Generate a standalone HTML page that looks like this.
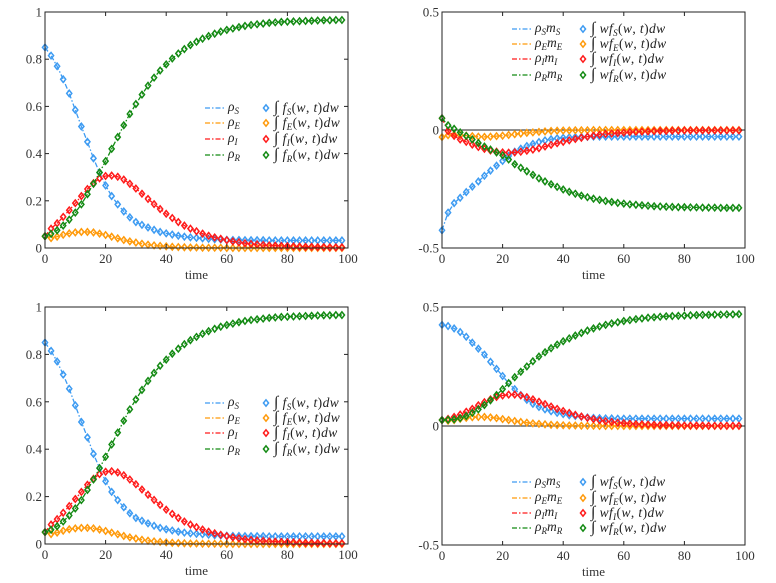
<!DOCTYPE html>
<html><head><meta charset="utf-8">
<style>
html,body{margin:0;padding:0;background:#fff;}
svg{display:block;font-family:"Liberation Serif",serif;}
</style></head>
<body>
<svg id="fig" width="776" height="583" viewBox="0 0 776 583" xmlns="http://www.w3.org/2000/svg"></svg>
<script>
const times = [0,2,4,6,8,10,12,14,16,18,20,22,24,26,28,30,32,34,36,38,40,42,44,46,48,50,52,54,56,58,60,62,64,66,68,70,72,74,76,78,80,82,84,86,88,90,92,94,96,98];
const xTicks = [0,20,40,60,80,100];
const yTicksDensity = [0,0.2,0.4,0.6,0.8,1];
const yTickLabelsDensity = ['0','0.2','0.4','0.6','0.8','1'];
const yTicksMoment = [-0.5,0,0.5];
const yTickLabelsMoment = ['-0.5','0','0.5'];

const densS = [0.85,0.815,0.77,0.715,0.655,0.585,0.515,0.45,0.38,0.32,0.265,0.22,0.185,0.155,0.13,0.11,0.098,0.087,0.077,0.068,0.062,0.057,0.052,0.048,0.045,0.043,0.041,0.039,0.037,0.036,0.035,0.034,0.034,0.033,0.033,0.033,0.033,0.032,0.032,0.032,0.032,0.032,0.032,0.032,0.032,0.032,0.032,0.032,0.032,0.032];
const densE = [0.05,0.042,0.048,0.056,0.062,0.066,0.068,0.068,0.066,0.061,0.055,0.048,0.041,0.034,0.028,0.023,0.018,0.014,0.011,0.009,0.007,0.005,0.004,0.003,0.002,0.002,0.001,0.001,0.001,0.001,0,0,0,0,0,0,0,0,0,0,0,0,0,0,0,0,0,0,0,0];
const densI = [0.05,0.082,0.105,0.132,0.16,0.19,0.22,0.25,0.275,0.295,0.305,0.307,0.302,0.29,0.272,0.252,0.23,0.208,0.186,0.165,0.145,0.127,0.11,0.095,0.082,0.071,0.061,0.052,0.045,0.039,0.033,0.028,0.024,0.02,0.017,0.015,0.013,0.011,0.01,0.009,0.008,0.007,0.006,0.005,0.005,0.004,0.004,0.003,0.003,0.003];
const densR = [0.05,0.06,0.075,0.095,0.12,0.15,0.185,0.228,0.272,0.32,0.368,0.42,0.47,0.52,0.568,0.61,0.65,0.688,0.722,0.752,0.778,0.803,0.824,0.843,0.86,0.874,0.887,0.898,0.908,0.917,0.924,0.93,0.936,0.941,0.945,0.948,0.951,0.954,0.956,0.958,0.959,0.96,0.961,0.962,0.963,0.964,0.965,0.965,0.966,0.966];

const momAS = [-0.425,-0.35,-0.31,-0.287,-0.263,-0.24,-0.218,-0.194,-0.172,-0.151,-0.131,-0.11,-0.092,-0.079,-0.068,-0.059,-0.051,-0.044,-0.039,-0.035,-0.033,-0.031,-0.03,-0.029,-0.029,-0.028,-0.028,-0.028,-0.028,-0.028,-0.028,-0.028,-0.028,-0.028,-0.028,-0.028,-0.028,-0.028,-0.028,-0.028,-0.028,-0.028,-0.028,-0.028,-0.028,-0.028,-0.028,-0.028,-0.028,-0.028];
const momAE = [-0.03,-0.022,-0.02,-0.022,-0.024,-0.026,-0.028,-0.029,-0.028,-0.026,-0.024,-0.021,-0.018,-0.015,-0.012,-0.01,-0.008,-0.006,-0.004,-0.003,-0.002,-0.002,-0.001,-0.001,-0.001,0,0,0,0,0,0,0,0,0,0,0,0,0,0,0,0,0,0,0,0,0,0,0,0,0];
const momAI = [0.05,-0.005,-0.025,-0.04,-0.05,-0.062,-0.072,-0.08,-0.087,-0.092,-0.095,-0.096,-0.095,-0.092,-0.088,-0.083,-0.077,-0.07,-0.063,-0.056,-0.05,-0.044,-0.038,-0.033,-0.028,-0.024,-0.02,-0.017,-0.015,-0.013,-0.011,-0.009,-0.008,-0.007,-0.006,-0.005,-0.004,-0.004,-0.003,-0.003,-0.002,-0.002,-0.002,-0.002,-0.002,-0.002,-0.002,-0.002,-0.002,-0.002];
const momAR = [0.05,0.02,0.005,-0.01,-0.025,-0.04,-0.055,-0.07,-0.083,-0.095,-0.107,-0.125,-0.145,-0.16,-0.175,-0.19,-0.205,-0.218,-0.23,-0.241,-0.252,-0.262,-0.27,-0.278,-0.285,-0.291,-0.296,-0.301,-0.305,-0.309,-0.312,-0.315,-0.317,-0.319,-0.321,-0.323,-0.324,-0.325,-0.326,-0.327,-0.327,-0.328,-0.328,-0.329,-0.329,-0.329,-0.33,-0.33,-0.33,-0.33];

const momBS = [0.425,0.42,0.41,0.395,0.375,0.35,0.325,0.3,0.27,0.24,0.21,0.18,0.155,0.13,0.11,0.093,0.08,0.07,0.062,0.055,0.05,0.045,0.042,0.039,0.036,0.034,0.033,0.032,0.032,0.031,0.031,0.031,0.031,0.031,0.031,0.031,0.031,0.031,0.031,0.031,0.031,0.031,0.031,0.031,0.031,0.031,0.031,0.031,0.031,0.031];
const momBE = [0.025,0.022,0.025,0.03,0.034,0.037,0.038,0.038,0.036,0.033,0.029,0.025,0.021,0.017,0.014,0.011,0.009,0.007,0.005,0.004,0.003,0.002,0.002,0.001,0.001,0.001,0,0,0,0,0,0,0,0,0,0,0,0,0,0,0,0,0,0,0,0,0,0,0,0];
const momBI = [0.025,0.03,0.038,0.048,0.06,0.072,0.087,0.1,0.112,0.122,0.128,0.132,0.132,0.128,0.121,0.112,0.102,0.092,0.082,0.072,0.063,0.055,0.047,0.04,0.034,0.029,0.024,0.02,0.017,0.014,0.012,0.01,0.008,0.007,0.006,0.005,0.004,0.004,0.003,0.003,0.002,0.002,0.002,0.002,0.001,0.001,0.001,0.001,0.001,0.001];
const momBR = [0.025,0.026,0.028,0.033,0.042,0.055,0.07,0.088,0.108,0.13,0.155,0.18,0.205,0.228,0.25,0.272,0.292,0.31,0.327,0.342,0.356,0.368,0.38,0.391,0.401,0.41,0.418,0.425,0.431,0.436,0.441,0.445,0.449,0.452,0.455,0.457,0.459,0.461,0.462,0.463,0.464,0.465,0.466,0.467,0.467,0.468,0.468,0.469,0.469,0.47];

const COLORS = ['#3d9bf2','#ff9a0a','#ff1a1a','#138a13'];
const NS = 'http://www.w3.org/2000/svg';
const svg = document.getElementById('fig');
function mk(tag, attrs, parent){
  const e = document.createElementNS(NS, tag);
  for (const k in attrs) e.setAttribute(k, attrs[k]);
  (parent||svg).appendChild(e);
  return e;
}
function panel(id, L, R, T, B, ymin, ymax, yt, ytl, series, legRows, legX, diamX, lineLbl, intLbl){
  const g = mk('g', {});
  
  
  const sx = v => L + (v - 0) / 100 * (R - L);
  const sy = v => B - (v - ymin) / (ymax - ymin) * (B - T);
  if (ymin < 0) {
    const z = mk('line', {x1:L, x2:R, y1:sy(0), y2:sy(0), stroke:'#222', 'stroke-width':1}, g);
    
    
  }
  series.forEach((s, si) => {
    const sg = mk('g', {}, g);
    
    
    const pts = times.map((t, i) => sx(t).toFixed(2) + ',' + sy(s[i]).toFixed(2)).join(' ');
    const pl = mk('polyline', {points:pts, fill:'none', stroke:COLORS[si], 'stroke-width':1.3, 'stroke-dasharray':'5 2 1.5 2'}, sg);
    
    
    times.forEach((t, i) => {
      const x = sx(t), y = sy(s[i]), r = 3.2;
      const d = mk('polygon', {points:`${x},${y-r} ${x+r*0.8},${y} ${x},${y+r} ${x-r*0.8},${y}`, fill:'none', stroke:COLORS[si], 'stroke-width':1.5}, sg);
      
      
    });
  });
  const box = mk('rect', {x:L, y:T, width:R-L, height:B-T, fill:'none', stroke:'#222', 'stroke-width':1}, g);
  
  
  xTicks.forEach(v => {
    const x = sx(v);
    mk('line', {x1:x, x2:x, y1:B, y2:B-4, stroke:'#222'}, g);
    mk('line', {x1:x, x2:x, y1:T, y2:T+4, stroke:'#222'}, g);
    const tx = mk('text', {x:x, y:B+15, 'text-anchor':'middle', 'font-size':13, fill:'#333'}, g);
    tx.textContent = v;
    
    
  });
  yt.forEach((v, i) => {
    const y = sy(v);
    mk('line', {x1:L, x2:L+4, y1:y, y2:y, stroke:'#222'}, g);
    mk('line', {x1:R, x2:R-4, y1:y, y2:y, stroke:'#222'}, g);
    const tx = mk('text', {x:L-3, y:y+4.5, 'text-anchor':'end', 'font-size':13, fill:'#333'}, g);
    tx.textContent = ytl[i];
    
    
  });
  const xl = mk('text', {x:(L+R)/2, y:B+31, 'text-anchor':'middle', 'font-size':13, fill:'#333'}, g);
  xl.textContent = 'time';
  
  
  const lg = mk('g', {}, g);
  
  
  const subs = ['S','E','I','R'];
  legRows.forEach((y, i) => {
    const e = mk('g', {}, lg);
    
    
    mk('line', {x1:legX, x2:legX+20, y1:y, y2:y, stroke:COLORS[i], 'stroke-width':1.3, 'stroke-dasharray':'5 2 1.5 2'}, e);
    const t1 = mk('text', {x:legX+23, y:y+3, 'font-size':13.5, 'font-style':'italic', fill:'#222'}, e);
    t1.innerHTML = lineLbl(subs[i]);
    const dx = diamX;
    const r = 3.2;
    mk('polygon', {points:`${dx},${y-r} ${dx+r*0.8},${y} ${dx},${y+r} ${dx-r*0.8},${y}`, fill:'none', stroke:COLORS[i], 'stroke-width':1.5}, e);
    const t2 = mk('text', {x:dx+8, y:y+4, 'font-size':13.5, fill:'#222', 'letter-spacing':'0.4'}, e);
    t2.innerHTML = intLbl(subs[i]);
  });
}
const dLine = s => `ρ<tspan font-size="9" dy="3">${s}</tspan>`;
const dInt = s => `<tspan font-size="16">∫</tspan> <tspan font-style="italic">f</tspan><tspan font-style="italic" font-size="9" dy="3">${s}</tspan><tspan dy="-3">(<tspan font-style="italic">w</tspan>, <tspan font-style="italic">t</tspan>)<tspan font-style="italic">dw</tspan></tspan>`;
const mLine = s => `ρ<tspan font-size="9" dy="3">${s}</tspan><tspan dy="-3">m</tspan><tspan font-size="9" dy="3">${s}</tspan>`;
const mInt = s => `<tspan font-size="16">∫</tspan> <tspan font-style="italic">wf</tspan><tspan font-style="italic" font-size="9" dy="3">${s}</tspan><tspan dy="-3">(<tspan font-style="italic">w</tspan>, <tspan font-style="italic">t</tspan>)<tspan font-style="italic">dw</tspan></tspan>`;

panel('density-plot-top', 45, 348, 12, 248, 0, 1, yTicksDensity, yTickLabelsDensity, [densS,densE,densI,densR], [108,123,139,155], 205, 266, dLine, dInt);
panel('moment-plot-top', 442, 745, 12, 248, -0.5, 0.5, yTicksMoment, yTickLabelsMoment, [momAS,momAE,momAI,momAR], [29,44,59,75], 512, 583, mLine, mInt);
panel('density-plot-bottom', 45, 348, 307, 544, 0, 1, yTicksDensity, yTickLabelsDensity, [densS,densE,densI,densR], [403,418,433,449], 205, 266, dLine, dInt);
panel('moment-plot-bottom', 442, 745, 307, 545, -0.5, 0.5, yTicksMoment, yTickLabelsMoment, [momBS,momBE,momBI,momBR], [482,498,513,528], 512, 583, mLine, mInt);
</script>
</body></html>
